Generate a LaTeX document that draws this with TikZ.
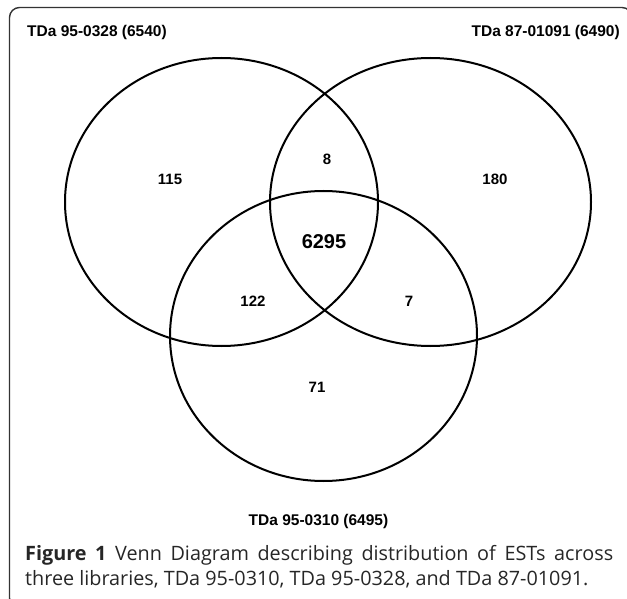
\documentclass[tikz,border=0pt]{standalone}
\usepackage{fontspec}
\setmainfont{Liberation Sans}
\newfontfamily\capfont{Open Sans}
\begin{document}
\begin{tikzpicture}[x=1pt,y=-1pt,
  setline/.style={line width=2pt,black},
  setlabel/.style={font=\fontsize{15.5}{18}\selectfont\bfseries,inner sep=0pt},
  regnum/.style={font=\fontsize{15}{18}\selectfont\bfseries,inner sep=0pt},
  bignum/.style={font=\fontsize{20}{24}\selectfont\bfseries,inner sep=0pt},
  captext/.style={font=\capfont\fontsize{19.8}{24}\selectfont,text=black!85,inner sep=0pt,anchor=base west}]
\useasboundingbox (0,0) rectangle (627,599);
\begin{scope}
\clip (0,0) rectangle (627,599);
\draw[line width=1.4pt,black!80,rounded corners=10pt] (9.5,7.5) rectangle (632,608);
\end{scope}
% sets
\draw[setline] (221.5,202) ellipse [x radius=156.5, y radius=144];
\draw[setline] (430.5,202) ellipse [x radius=160.5, y radius=144];
\draw[setline] (323.5,336) ellipse [x radius=153.5, y radius=145];
% set labels
\node[setlabel,anchor=west] (la) at (27,32) {TDa 95-0328 (6540)};
\node[setlabel,anchor=east] (lb) at (620,32) {TDa 87-01091 (6490)};
\node[setlabel] (lc) at (318.5,521) {TDa 95-0310 (6495)};
% region counts
\node[regnum] (nA) at (170,179) {115};
\node[regnum] (nAB) at (327,159) {8};
\node[regnum] (nB) at (495,179) {180};
\node[bignum] (nABC) at (324,242) {6295};
\node[regnum] (nAC) at (253,301) {122};
\node[regnum] (nBC) at (409,301) {7};
\node[regnum] (nC) at (317,387) {71};
% caption
\node[captext] (cap1) at (25,560) {\makebox[588pt][s]{\textbf{Figure 1} Venn Diagram describing distribution of ESTs across}};
\node[captext] (cap2) at (25,585.5) {three libraries, TDa 95-0310, TDa 95-0328, and TDa 87-01091.};
\end{tikzpicture}
\end{document}
